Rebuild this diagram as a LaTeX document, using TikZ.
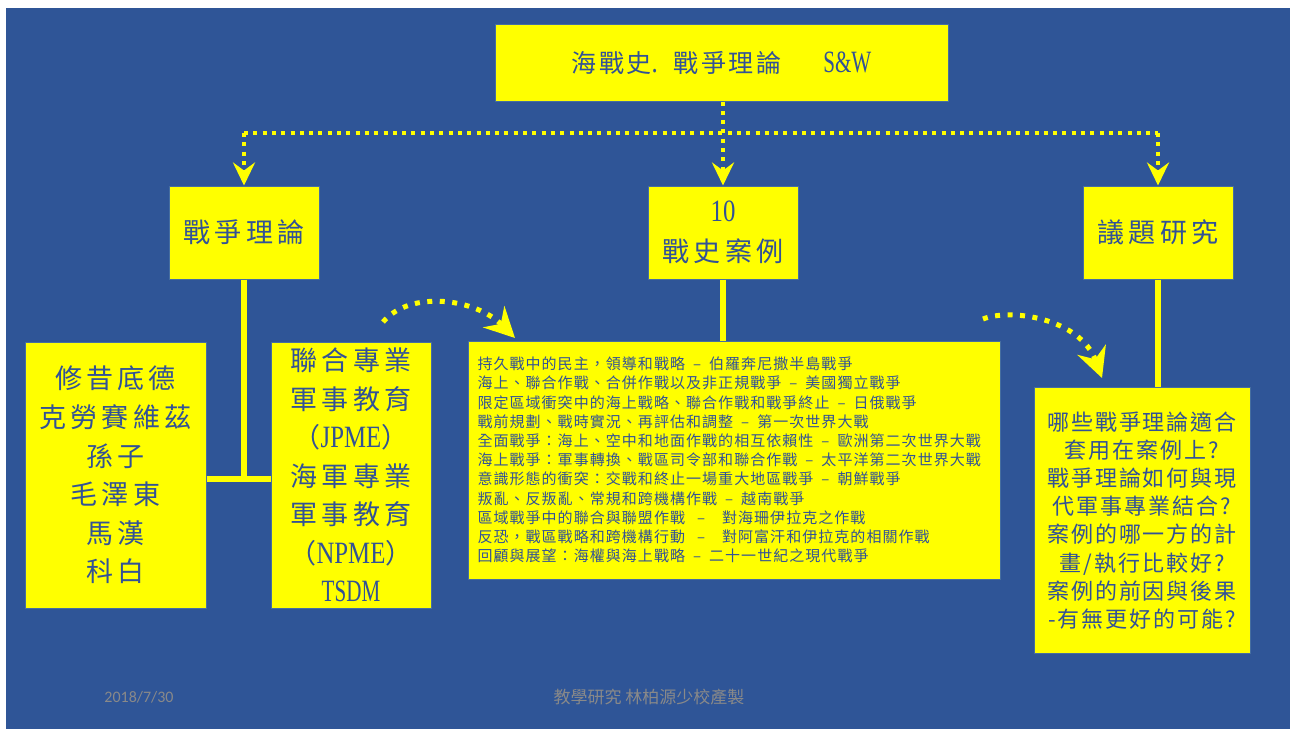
\documentclass[tikz,border=0pt]{standalone}
\usepackage{fontspec}
\usetikzlibrary{arrows.meta}
\newfontfamily\cjkA[LetterSpace=10]{Noto Sans CJK TC}
\newfontfamily\cjkB[LetterSpace=16]{Noto Sans CJK TC}
\newfontfamily\cjkC[LetterSpace=7]{Noto Sans CJK TC}
\newfontfamily\cjkD[LetterSpace=9]{Noto Sans CJK TC}
\newfontfamily\cjkF{Noto Sans CJK TC}
\newfontfamily\latn[FakeStretch=0.8]{Liberation Serif}
\newfontfamily\latc[FakeStretch=0.68]{Liberation Serif}
\newfontfamily\footf{Carlito}
\definecolor{bgblue}{RGB}{47,85,151}
\definecolor{ylw}{RGB}{255,255,0}
\definecolor{txtblue}{RGB}{50,82,150}
\definecolor{bord}{RGB}{70,110,160}
\definecolor{footgray}{RGB}{137,137,137}
\newcommand{\dsh}[1][24pt]{\makebox[#1]{–}}
\begin{document}
\begin{tikzpicture}[x=1pt,y=-1pt,
  ybox/.style={draw=bord, line width=1pt, fill=ylw, inner sep=0pt, text=txtblue, align=center},
  conn/.style={draw=ylw, line width=6pt},
  dotl/.style={draw=ylw, line width=4pt, dash pattern=on 4pt off 5.3pt},
  darr/.style={-{Stealth[length=23pt,width=22pt,inset=8pt]}},
  curvd/.style={draw=ylw, line width=5pt, dash pattern=on 5pt off 7.5pt, -{Stealth[length=30pt,width=30pt,inset=10pt]}},
  foottext/.style={text=footgray, inner sep=0pt}]
\useasboundingbox (0,0) rectangle (1290,729);
\fill[white] (0,0) rectangle (1290,729);
\fill[bgblue] (6,8) rectangle (1290,729);

% boxes
\node[ybox, minimum width=453pt, minimum height=77pt, font={\cjkA\fontsize{25}{25}\selectfont}] (title) at (721.5,62.5)
  {海戰史{\latn\fontsize{31}{31}\selectfont .}\hspace{16pt}戰爭理論\hspace{42pt}{\latc\fontsize{31}{31}\selectfont S\&W}};
\node[ybox, minimum width=150pt, minimum height=93pt, font={\cjkB\fontsize{27}{27}\selectfont}] (theory) at (244,232.5) {戰爭理論};
\node[ybox, minimum width=150pt, minimum height=93pt, font={\cjkB\fontsize{27}{40}\selectfont}] (cases) at (723,232.5)
  {{\latn\fontsize{31}{40}\selectfont 10}\\戰史案例};
\node[ybox, minimum width=150pt, minimum height=93pt, font={\cjkB\fontsize{27}{27}\selectfont}] (issues) at (1158,232.5) {議題研究};

\node[ybox, minimum width=181pt, minimum height=266pt, font={\cjkB\fontsize{27}{38.6}\selectfont}] (leftb) at (115.5,475)
  {修昔底德\\克勞賽維茲\\孫子\\毛澤東\\馬漢\\科白};
\node[ybox, minimum width=160pt, minimum height=266pt, font={\cjkB\fontsize{27}{38.5}\selectfont}] (jpme) at (351,475)
  {聯合專業\\軍事教育\\（{\latn\fontsize{31}{38.5}\selectfont JPME}）\\海軍專業\\軍事教育\\（{\latn\fontsize{31}{38.5}\selectfont NPME}）\\{\latc\fontsize{31}{38.5}\selectfont TSDM}};
\node[ybox, align=left, text width=514pt, inner xsep=9pt, minimum height=238pt, font={\cjkC\fontsize{15}{19.2}\selectfont}] (mid) at (734.5,460)
  {持久戰中的民主，領導和戰略\dsh 伯羅奔尼撒半島戰爭\\
   海上、聯合作戰、合併作戰以及非正規戰爭\dsh 美國獨立戰爭\\
   限定區域衝突中的海上戰略、聯合作戰和戰爭終止\dsh 日俄戰爭\\
   戰前規劃、戰時實況、再評估和調整\dsh 第一次世界大戰\\
   全面戰爭：海上、空中和地面作戰的相互依賴性\dsh 歐洲第二次世界大戰\\
   海上戰爭：軍事轉換、戰區司令部和聯合作戰\dsh 太平洋第二次世界大戰\\
   意識形態的衝突：交戰和終止一場重大地區戰爭\dsh 朝鮮戰爭\\
   叛亂、反叛亂、常規和跨機構作戰\dsh 越南戰爭\\
   區域戰爭中的聯合與聯盟作戰\dsh[32pt] 對海珊伊拉克之作戰\\
   反恐，戰區戰略和跨機構行動\dsh[32pt] 對阿富汗和伊拉克的相關作戰\\
   回顧與展望：海權與海上戰略\dsh 二十一世紀之現代戰爭};
\node[ybox, minimum width=216pt, minimum height=266pt, font={\cjkD\fontsize{22}{28.2}\selectfont}] (right) at (1142,520.5)
  {哪些戰爭理論適合\\套用在案例上?\\戰爭理論如何與現\\代軍事專業結合?\\案例的哪一方的計\\畫/執行比較好?\\案例的前因與後果\\-有無更好的可能?};

% solid connectors
\coordinate (j) at (244,479);
\draw[conn] (theory.south) -- (j);
\draw[conn] (leftb.east |- j) -- (jpme.west |- j);
\draw[conn] (cases.south) -- (cases.south |- mid.north);
\draw[conn] (issues.south) -- (issues.south |- right.north);

% dotted tree connectors
\coordinate (hl) at (244,133);
\coordinate (hr) at (1158,133);
\draw[dotl] (hl) -- (hr);
\draw[dotl, darr] (hl) -- (theory.north);
\draw[dotl, darr] (hr) -- (issues.north);
\draw[dotl, darr] (cases.north |- title.south) -- (cases.north);

% curved dotted arrows
\coordinate (c1s) at (383,322);
\coordinate (c1e) at (515,338);
\coordinate (c2s) at (983,319);
\coordinate (c2e) at (1102,378);
\draw[curvd] (c1s) .. controls (410,290) and (475,298) .. (c1e);
\draw[curvd] (c2s) .. controls (1010,308) and (1080,318) .. (c2e);

% footer
\node[foottext, font={\footf\fontsize{16}{16}\selectfont}] (date) at (139,697) {2018/7/30};
\node[foottext, font={\cjkF\fontsize{17}{17}\selectfont}] (credit) at (649,697) {教學研究 林柏源少校產製};
\end{tikzpicture}
\end{document}
